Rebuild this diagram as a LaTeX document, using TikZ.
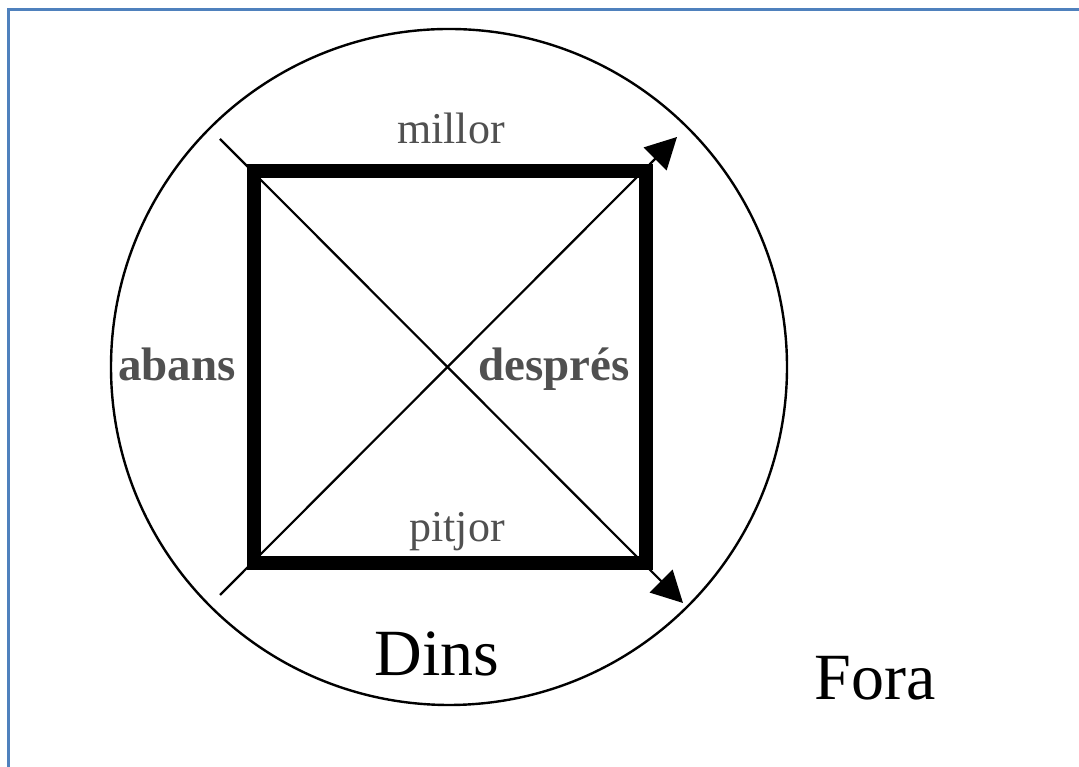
\documentclass[tikz,border=0pt]{standalone}
\usepackage{fontspec}
\setmainfont{Liberation Serif}
\usepackage{xcolor}
\usepackage{tikz}
\usetikzlibrary{arrows.meta, positioning}
\definecolor{framecol}{RGB}{79,129,189}
\definecolor{textgray}{RGB}{80,80,80}
\tikzstyle{ring} = [draw, circle, minimum size=676pt, line width=2.4pt, inner sep=0pt]
\tikzstyle{box} = [draw, rectangle, minimum size=392pt, line width=13.5pt, inner sep=0pt]
\tikzstyle{arrow} = [line width=2.2pt, -{Triangle[length=31pt,width=32pt]}]
\tikzstyle{graytext} = [text=textgray, font=\fontsize{44}{48}\selectfont, anchor=base, inner sep=0pt]
\tikzstyle{boldtext} = [text=textgray, font=\fontsize{47}{52}\selectfont\bfseries, anchor=base, inner sep=0pt]
\tikzstyle{bigtext} = [font=\fontsize{66}{72}\selectfont, anchor=base, inner sep=0pt]

\begin{document}
\begin{tikzpicture}[x=1pt, y=1pt]
    \clip (0,0) rectangle (1079,767);
    \draw[framecol, line width=3pt] (8,-20) -- (8,757) -- (1100,757);
    \node (outer) [ring] at (449,400) {};
    \coordinate (tl) at (220,628);
    \coordinate (bl) at (220,172);
    \coordinate (tr) at (677,630);
    \coordinate (br) at (683,164);
    \draw [arrow] (bl) -- (tr);
    \draw [arrow] (tl) -- (br);
    \node (square) [box] at (450,400) {};
    \node (millor) [graytext] at (451,623) {millor};
    \node (pitjor) [graytext] at (457,225) {pitjor};
    \node (abans) [boldtext] at (177,386) {abans};
    \node (despres) [boldtext] at (554,386) {després};
    \node (dins) [bigtext] at (437,91) {Dins};
    \node (fora) [bigtext] at (875,67) {Fora};
\end{tikzpicture}
\end{document}
